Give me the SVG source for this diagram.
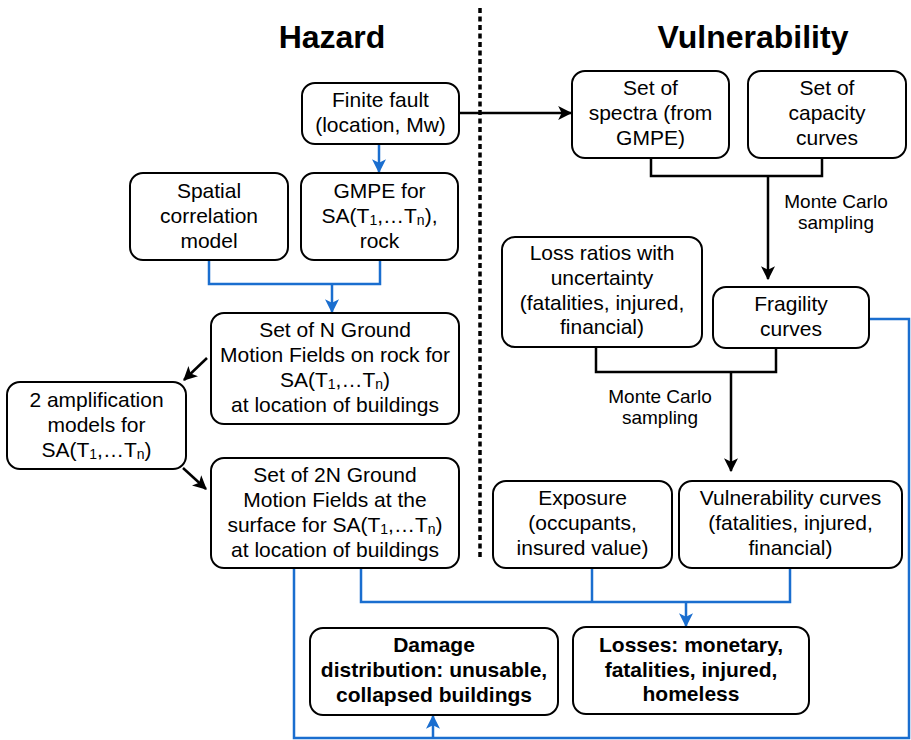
<svg xmlns="http://www.w3.org/2000/svg" width="911" height="740" viewBox="0 0 911 740">
<style>
.box{fill:#fff;stroke:#000;stroke-width:2}
.t{font-family:"Liberation Sans",Arial,sans-serif;font-size:21px;fill:#000;text-anchor:middle}
.b{font-weight:bold}
.lbl{font-family:"Liberation Sans",Arial,sans-serif;font-size:19px;fill:#000;text-anchor:middle}
.title{font-family:"Liberation Sans",Arial,sans-serif;font-size:32px;font-weight:bold;text-anchor:middle}
.sub{font-size:14px}
.blue{fill:none;stroke:#1a6ecf;stroke-width:2.5}
.blk{fill:none;stroke:#000;stroke-width:2.5}
</style>
<defs>
<marker id="ab" markerUnits="userSpaceOnUse" markerWidth="14" markerHeight="14" viewBox="0 0 12 12" refX="11" refY="6" orient="auto">
<path d="M0,0 L12,6 L0,12 L3,6 z" fill="#1a6ecf"/>
</marker>
<marker id="ak" markerUnits="userSpaceOnUse" markerWidth="14" markerHeight="14" viewBox="0 0 12 12" refX="11" refY="6" orient="auto">
<path d="M0,0 L12,6 L0,12 L3,6 z" fill="#000"/>
</marker>
</defs>

<text class="title" x="332" y="48">Hazard</text>
<text class="title" x="753" y="48">Vulnerability</text>
<line x1="480" y1="8" x2="480" y2="560" stroke="#000" stroke-width="3.5" stroke-dasharray="5,3.5"/>

<g id="connectors">
<path class="blue" d="M379,144 V172" marker-end="url(#ab)"/>
<path class="blue" d="M209,260 V284 H380 V260"/>
<path class="blue" d="M332,284 V312" marker-end="url(#ab)"/>
<path class="blue" d="M361,567 V602 H790 V567"/>
<path class="blue" d="M592,567 V602"/>
<path class="blue" d="M686,602 V626" marker-end="url(#ab)"/>
<path class="blue" d="M869,319 H909 V738 H294 V567"/>
<path class="blue" d="M433,738 V716" marker-end="url(#ab)"/>
<path class="blk" d="M459,113 H571" marker-end="url(#ak)"/>
<path class="blk" d="M651,158 V176 H822 V158"/>
<path class="blk" d="M768,176 V279" marker-end="url(#ak)"/>
<path class="blk" d="M596,347 V372 H776 V348"/>
<path class="blk" d="M731,372 V471" marker-end="url(#ak)"/>
<path class="blk" d="M207,358 L184,380" marker-end="url(#ak)"/>
<path class="blk" d="M183,468 L206,489" marker-end="url(#ak)"/>
</g>

<g id="finite-fault">
<rect class="box" x="302" y="83" width="157" height="61" rx="13"/>
<text class="t" x="380.5" y="107">Finite fault</text>
<text class="t" x="380.5" y="132">(location, Mw)</text>
</g>

<g id="spatial">
<rect class="box" x="130" y="173" width="158" height="87" rx="13"/>
<text class="t" x="209" y="198">Spatial</text>
<text class="t" x="209" y="223">correlation</text>
<text class="t" x="209" y="248">model</text>
</g>

<g id="gmpe">
<rect class="box" x="301" y="173" width="157" height="87" rx="13"/>
<text class="t" x="379.5" y="198">GMPE for</text>
<text class="t" x="379.5" y="223">SA(T<tspan class="sub" dy="2">1</tspan><tspan dy="-2">,…T</tspan><tspan class="sub" dy="2">n</tspan><tspan dy="-2">),</tspan></text>
<text class="t" x="379.5" y="248">rock</text>
</g>

<g id="set-n">
<rect class="box" x="211" y="313" width="248" height="111" rx="13"/>
<text class="t" x="335" y="337">Set of N Ground</text>
<text class="t" x="335" y="362">Motion Fields on rock for</text>
<text class="t" x="335" y="387">SA(T<tspan class="sub" dy="2">1</tspan><tspan dy="-2">,…T</tspan><tspan class="sub" dy="2">n</tspan><tspan dy="-2">)</tspan></text>
<text class="t" x="335" y="412">at location of buildings</text>
</g>

<g id="amplification">
<rect class="box" x="7" y="382" width="179" height="87" rx="13"/>
<text class="t" x="96.5" y="407">2 amplification</text>
<text class="t" x="96.5" y="432">models for</text>
<text class="t" x="96.5" y="457">SA(T<tspan class="sub" dy="2">1</tspan><tspan dy="-2">,…T</tspan><tspan class="sub" dy="2">n</tspan><tspan dy="-2">)</tspan></text>
</g>

<g id="set-2n">
<rect class="box" x="211" y="458" width="248" height="110" rx="13"/>
<text class="t" x="335" y="482">Set of 2N Ground</text>
<text class="t" x="335" y="507">Motion Fields at the</text>
<text class="t" x="335" y="532">surface for SA(T<tspan class="sub" dy="2">1</tspan><tspan dy="-2">,…T</tspan><tspan class="sub" dy="2">n</tspan><tspan dy="-2">)</tspan></text>
<text class="t" x="335" y="557">at location of buildings</text>
</g>

<g id="spectra">
<rect class="box" x="572" y="71" width="157" height="87" rx="13"/>
<text class="t" x="650.5" y="95">Set of</text>
<text class="t" x="650.5" y="120">spectra (from</text>
<text class="t" x="650.5" y="145">GMPE)</text>
</g>

<g id="capacity">
<rect class="box" x="748" y="71" width="158" height="87" rx="13"/>
<text class="t" x="827" y="95">Set of</text>
<text class="t" x="827" y="120">capacity</text>
<text class="t" x="827" y="145">curves</text>
</g>

<g id="mc-label-1">
<text class="lbl" x="836" y="208">Monte Carlo</text>
<text class="lbl" x="836" y="229">sampling</text>
</g>

<g id="loss-ratios">
<rect class="box" x="502" y="237" width="200" height="110" rx="13"/>
<text class="t" x="602" y="260">Loss ratios with</text>
<text class="t" x="602" y="285">uncertainty</text>
<text class="t" x="602" y="310">(fatalities, injured,</text>
<text class="t" x="602" y="334">financial)</text>
</g>

<g id="fragility">
<rect class="box" x="713" y="287" width="156" height="61" rx="13"/>
<text class="t" x="791" y="311">Fragility</text>
<text class="t" x="791" y="336">curves</text>
</g>

<g id="mc-label-2">
<text class="lbl" x="660" y="403">Monte Carlo</text>
<text class="lbl" x="660" y="424">sampling</text>
</g>

<g id="exposure">
<rect class="box" x="493" y="481" width="179" height="87" rx="13"/>
<text class="t" x="582.5" y="505">Exposure</text>
<text class="t" x="582.5" y="530">(occupants,</text>
<text class="t" x="582.5" y="555">insured value)</text>
</g>

<g id="vulnerability-curves">
<rect class="box" x="679" y="481" width="223" height="87" rx="13"/>
<text class="t" x="790.5" y="505">Vulnerability curves</text>
<text class="t" x="790.5" y="530">(fatalities, injured,</text>
<text class="t" x="790.5" y="555">financial)</text>
</g>

<g id="damage">
<rect class="box" x="310" y="628" width="248" height="87" rx="13"/>
<text class="t b" x="434" y="652">Damage</text>
<text class="t b" x="434" y="677">distribution: unusable,</text>
<text class="t b" x="434" y="702">collapsed buildings</text>
</g>

<g id="losses">
<rect class="box" x="573" y="627" width="236" height="87" rx="13"/>
<text class="t b" x="691" y="652">Losses: monetary,</text>
<text class="t b" x="691" y="677">fatalities, injured,</text>
<text class="t b" x="691" y="701">homeless</text>
</g>
</svg>
